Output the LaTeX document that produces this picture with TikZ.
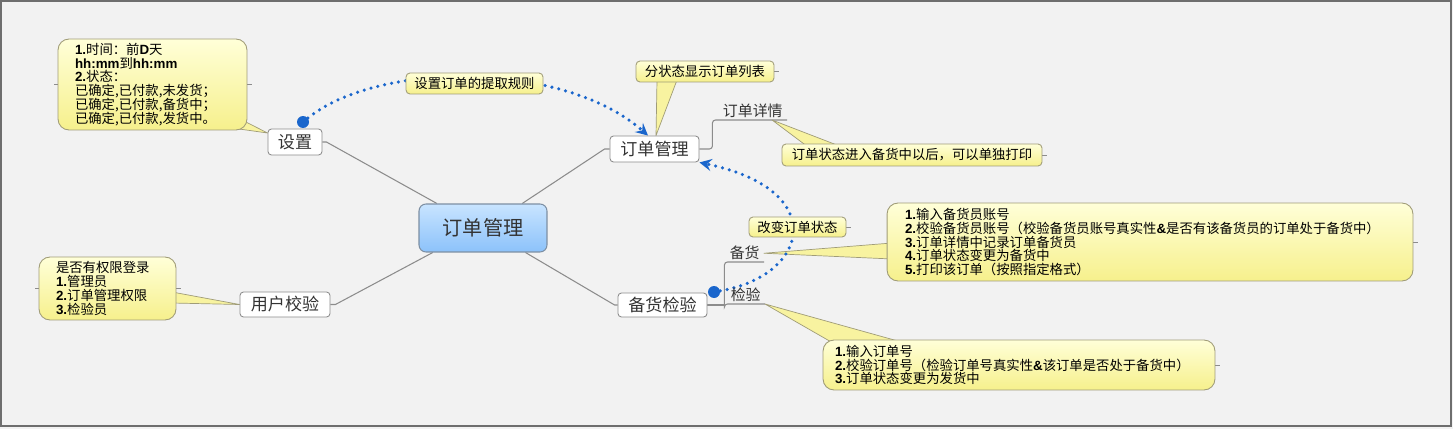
\documentclass[tikz,border=0pt]{standalone}
\usepackage{fontspec}
\setmainfont{Noto Sans CJK SC}
\newfontfamily\latb{Liberation Sans}
\usepackage{xcolor}
\usetikzlibrary{arrows,backgrounds}

\definecolor{mapbg}{HTML}{F2F2F2}
\definecolor{framegray}{HTML}{6E6E6E}
\definecolor{linegray}{HTML}{8C8C8C}
\definecolor{textgray}{HTML}{333333}
\definecolor{noteline}{HTML}{A09C78}
\definecolor{notetop}{HTML}{FFFFD8}
\definecolor{notebot}{HTML}{F6F08C}
\definecolor{notefill}{HTML}{F8F3A0}
\definecolor{roottop}{HTML}{C8E4FF}
\definecolor{rootbot}{HTML}{8CC2FA}
\definecolor{rootline}{HTML}{7D8FA3}
\definecolor{linkblue}{HTML}{1A66CC}

\newcommand{\nb}[1]{{\latb\bfseries #1}}
\newcommand{\notefont}{\fontsize{7.6}{7.9}\selectfont}
\newcommand{\leaffont}{\fontsize{8.5}{9.5}\selectfont}
\newcommand{\topicfont}{\fontsize{9.7}{11}\selectfont}
\newcommand{\rootfont}{\fontsize{11.5}{13}\selectfont}

\tikzset{
  callout/.style={draw=noteline, line width=0.5pt, rounded corners=0.22cm,
    top color=notetop, bottom color=notebot, align=left, font=\notefont,
    inner ysep=0pt, text=black},
  tag/.style={draw=noteline, line width=0.5pt, rounded corners=0.08cm,
    top color=notetop, bottom color=notebot, align=center, font=\notefont,
    inner sep=0pt, text=black},
  topic/.style={draw=linegray, line width=0.5pt, fill=white,
    rounded corners=0.07cm, font=\topicfont, text=textgray, inner sep=0pt},
  root/.style={draw=rootline, line width=0.6pt, top color=roottop,
    bottom color=rootbot, rounded corners=0.14cm, font=\rootfont,
    text=textgray, minimum width=2.56cm, minimum height=0.96cm, inner sep=0pt},
  leaf/.style={font=\leaffont, text=textgray, inner xsep=0.08cm, inner ysep=0.03cm},
  branch/.style={draw=linegray, line width=0.6pt},
  pointer/.style={draw=noteline, fill=notefill, line width=0.4pt, line join=round},
  link/.style={draw=linkblue, line width=2pt, line cap=round,
    dash pattern=on 0pt off 4pt, ->, >=stealth},
  dot/.style={circle, fill=linkblue, minimum size=0.24cm, inner sep=0pt},
  tick/.style={draw=linegray, line width=0.5pt}
}

\begin{document}
\begin{tikzpicture}[x=0.02cm, y=-0.02cm]
    \useasboundingbox (0,0) rectangle (1453,429);

    % main topics
    \node[root] (root) at (483,228) {订单管理};
    \node[topic, minimum width=1.08cm, minimum height=0.52cm] (shezhi) at (295,142) {设置};
    \node[topic, minimum width=1.78cm, minimum height=0.52cm] (ddgl) at (654.5,149) {订单管理};
    \node[topic, minimum width=1.8cm, minimum height=0.5cm] (yhjy) at (285,304.5) {用户校验};
    \node[topic, minimum width=1.78cm, minimum height=0.48cm] (bhjy) at (662.5,305) {备货检验};

    % sub topics
    \node[leaf, anchor=south east] (xq) at (787,120) {订单详情};
    \node[leaf, anchor=south east] (bh) at (764,262) {备货};
    \node[leaf, anchor=south east] (jy) at (765,304) {检验};

    % notes
    \node[callout, minimum width=3.78cm, minimum height=1.82cm, text width=3.1cm, inner xsep=0.34cm] (c_rule) at (152.5,84.5)
        {\nb{1.}时间：前\nb{D}天\\ \nb{hh:mm}到\nb{hh:mm}\\ \nb{2.}状态：\\ 已确定,已付款,未发货；\\ 已确定,已付款,备货中；\\ 已确定,已付款,发货中。};
    \node[callout, minimum width=2.74cm, minimum height=1.26cm, text width=2.06cm, inner xsep=0.34cm] (c_user) at (107.5,288.5)
        {是否有权限登录\\ \nb{1.}管理员\\ \nb{2.}订单管理权限\\ \nb{3.}检验员};
    \node[callout, minimum height=1.56cm, text width=9.8cm, inner xsep=0.36cm] (c_stock) at (1150,242)
        {\nb{1.}输入备货员账号\\ \nb{2.}校验备货员账号（校验备货员账号真实性\nb{\&}是否有该备货员的订单处于备货中）\\ \nb{3.}订单详情中记录订单备货员\\ \nb{4.}订单状态变更为备货中\\ \nb{5.}打印该订单（按照指定格式）};
    \node[callout, minimum height=1.0cm, text width=7.36cm, inner xsep=0.24cm] (c_check) at (1019,365)
        {\nb{1.}输入订单号\\ \nb{2.}校验订单号（检验订单号真实性\nb{\&}该订单是否处于备货中）\\ \nb{3.}订单状态变更为发货中};
    \node[tag, minimum width=2.74cm, minimum height=0.42cm] (c_fetch) at (474.5,83.5) {设置订单的提取规则};
    \node[tag, minimum width=2.76cm, minimum height=0.42cm] (c_list) at (705,71.5) {分状态显示订单列表};
    \node[tag, minimum width=5.2cm, minimum height=0.44cm] (c_print) at (912,155) {订单状态进入备货中以后，可以单独打印};
    \node[tag, minimum width=1.94cm, minimum height=0.4cm] (c_state) at (797.5,227) {改变订单状态};

    % relationship ends
    \node[dot] (d1) at (303,122) {};
    \node[dot] (d2) at (714,292) {};

    \begin{scope}[on background layer]
    \fill[mapbg] (0,0) rectangle (1453,429);
    \draw[framegray, line width=1pt] (1,1) rectangle (1451,426);

    % branches
    \draw[branch] (root.152) -- ([xshift=0.08cm]shezhi.east) -- (shezhi.east);
    \draw[branch] (root.32) -- ([xshift=-0.1cm]ddgl.west) -- (ddgl.west);
    \draw[branch] (root.206) -- ([xshift=0.1cm]yhjy.east) -- (yhjy.east);
    \draw[branch] (root.330) -- ([xshift=-0.06cm]bhjy.west) -- (bhjy.west);
    \draw[branch, rounded corners=0.06cm] (ddgl.east) -- ++(13,0) |- (xq.south east);
    \draw[branch] (bhjy.east) -- ++(17,0) coordinate (fork);
    \draw[branch, rounded corners=0.06cm] (fork) |- (bh.south east);
    \draw[branch, rounded corners=0.06cm] (fork) |- (jy.south east);

    % note pointers
    \draw[pointer] ([yshift=0.18cm]shezhi.west) -- (244,121) -- (232,128) -- cycle;
    \draw[pointer] ([xshift=0.03cm]ddgl.north) -- (657,80) -- (677,80) -- cycle;
    \draw[pointer] ([xshift=-0.3cm]xq.south east) -- (808,147) -- (842,147) -- cycle;
    \draw[pointer] (bh.east) -- (892,243) -- (892,259) -- cycle;
    \draw[pointer] (jy.south east) -- (833,343) -- (905,343) -- cycle;
    \draw[pointer] (yhjy.west) -- (172,292) -- (172,303) -- cycle;

    % collapse ticks
    \foreach \n in {c_rule, c_user}
        \draw[tick] (\n.west) -- ++(-4,0);
    \foreach \n in {c_rule, c_user, c_list, c_print, c_state, c_stock, c_check}
        \draw[tick] (\n.east) -- ++(5,0);

    % relationships
    \draw[link] (d1) .. controls (380,60) and (565,62) .. ([xshift=-0.13cm]ddgl.north);
    \draw[link] (d2) .. controls (810,275) and (830,190) .. (ddgl.south east);
    \end{scope}
\end{tikzpicture}
\end{document}
